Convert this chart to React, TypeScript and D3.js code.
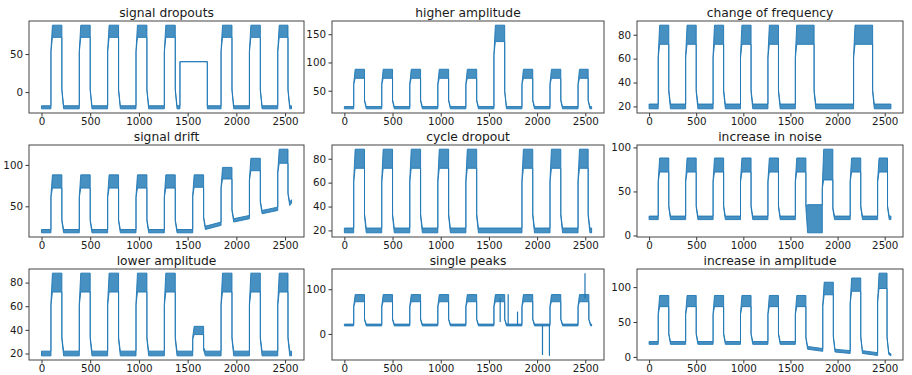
import * as d3 from "d3";
import { useRef, useEffect } from "react";

const WIDTH = 912;
const HEIGHT = 375;
const LAST = 2566; // last sample index
const BLUE = "#1f77b4";

const xTicks = [0, 500, 1000, 1500, 2000, 2500];

// each row: [rise, fall, plateau low, plateau high, base after fall, base before next rise, base noise]
const dropoutsCycles = [
  [97, 209, 72, 88, -20, -20, 2],
  [388, 500, 72, 88, -20, -20, 2],
  [679, 791, 72, 88, -20, -20, 2],
  [970, 1082, 72, 88, -20, -20, 2],
  [1261, 1373, 72, 88, -20, -20, 2],
  [1421, 1702, 40, 40, -20, -20, 2],
  [1843, 1955, 72, 88, -20, -20, 2],
  [2134, 2246, 72, 88, -20, -20, 2],
  [2425, 2530, 72, 88, -20, -20, 2],
];
const higherCycles = [
  [97, 209, 72, 88, 20, 20, 2],
  [388, 500, 72, 88, 20, 20, 2],
  [679, 791, 72, 88, 20, 20, 2],
  [970, 1082, 72, 88, 20, 20, 2],
  [1261, 1373, 72, 88, 20, 20, 2],
  [1552, 1664, 137, 166, 20, 20, 2],
  [1843, 1955, 72, 88, 20, 20, 2],
  [2134, 2246, 72, 88, 20, 20, 2],
  [2425, 2530, 72, 88, 20, 20, 2],
];
const frequencyCycles = [
  [97, 209, 72, 88, 20, 20, 2],
  [388, 500, 72, 88, 20, 20, 2],
  [679, 791, 72, 88, 20, 20, 2],
  [970, 1082, 72, 88, 20, 20, 2],
  [1261, 1373, 72, 88, 20, 20, 2],
  [1552, 1751, 72, 88, 20, 20, 2],
  [2170, 2372, 72, 88, 20, 20, 2],
];
const driftCycles = [
  [97, 209, 72, 88, 20, 20, 2],
  [388, 500, 72, 88, 20, 20, 2],
  [679, 791, 72, 88, 20, 20, 2],
  [970, 1082, 72, 88, 20, 20, 2],
  [1261, 1373, 72, 88, 20, 20, 2],
  [1552, 1664, 73, 88, 24, 29, 2],
  [1843, 1955, 83, 97, 33, 37, 2],
  [2134, 2246, 93, 108, 43, 47, 2],
  [2425, 2530, 102, 119, 53, 56, 2],
];
const cycleDropCycles = [
  [97, 209, 72, 88, 20, 20, 2],
  [388, 500, 72, 88, 20, 20, 2],
  [679, 791, 72, 88, 20, 20, 2],
  [970, 1082, 72, 88, 20, 20, 2],
  [1261, 1373, 72, 88, 20, 20, 2],
  [1843, 1955, 72, 88, 20, 20, 2],
  [2134, 2246, 72, 88, 20, 20, 2],
  [2425, 2530, 72, 88, 20, 20, 2],
];
const noiseCycles = [
  [97, 209, 72, 88, 20, 20, 2],
  [388, 500, 72, 88, 20, 20, 2],
  [679, 791, 72, 88, 20, 20, 2],
  [970, 1082, 72, 88, 20, 20, 2],
  [1261, 1373, 72, 88, 20, 20, 2],
  [1552, 1664, 72, 88, 19, 19, 16],
  [1838, 1950, 63, 98, 20, 20, 2],
  [2134, 2246, 72, 88, 20, 20, 2],
  [2425, 2530, 72, 88, 20, 20, 2],
];
const lowerCycles = [
  [97, 209, 72, 88, 20, 20, 2],
  [388, 500, 72, 88, 20, 20, 2],
  [679, 791, 72, 88, 20, 20, 2],
  [970, 1082, 72, 88, 20, 20, 2],
  [1261, 1373, 72, 88, 20, 20, 2],
  [1552, 1664, 36, 43, 20, 20, 2],
  [1843, 1955, 72, 88, 20, 20, 2],
  [2134, 2246, 72, 88, 20, 20, 2],
  [2425, 2530, 72, 88, 20, 20, 2],
];
const peaksCycles = [
  [97, 209, 72, 88, 20, 20, 2],
  [388, 500, 72, 88, 20, 20, 2],
  [679, 791, 72, 88, 20, 20, 2],
  [970, 1082, 72, 88, 20, 20, 2],
  [1261, 1373, 72, 88, 20, 20, 2],
  [1552, 1664, 72, 88, 20, 20, 2],
  [1843, 1955, 72, 88, 20, 20, 2],
  [2134, 2246, 72, 88, 20, 20, 2],
  [2425, 2537, 72, 88, 20, 20, 2],
];
// [time, from, to]
const peaksSpikes = [
  [1617, 80, 27],
  [1700, 20, 89],
  [1797, 20, 50],
  [2056, 20, -47],
  [2128, 20, -49],
  [2497, 80, 136],
];
const amplitudeCycles = [
  [97, 209, 72, 88, 20, 20, 2],
  [388, 500, 72, 88, 20, 20, 2],
  [679, 791, 72, 88, 20, 20, 2],
  [970, 1082, 72, 88, 20, 20, 2],
  [1261, 1373, 72, 88, 20, 20, 2],
  [1552, 1664, 72, 88, 13, 10, 2],
  [1843, 1955, 89, 107, 9, 7, 2],
  [2134, 2246, 94, 113, 7, 4, 2],
  [2425, 2525, 98, 120, 5, 3, 1.5],
];

const panels = [
  { title: "signal dropouts", start: -20, cycles: dropoutsCycles, yTicks: [0, 50], spikes: [] as number[][] },
  { title: "higher amplitude", start: 20, cycles: higherCycles, yTicks: [50, 100, 150], spikes: [] },
  { title: "change of frequency", start: 20, cycles: frequencyCycles, yTicks: [20, 40, 60, 80], spikes: [] },
  { title: "signal drift", start: 20, cycles: driftCycles, yTicks: [50, 100], spikes: [] },
  { title: "cycle dropout", start: 20, cycles: cycleDropCycles, yTicks: [20, 40, 60, 80], spikes: [] },
  { title: "increase in noise", start: 20, cycles: noiseCycles, yTicks: [0, 50, 100], spikes: [] },
  { title: "lower amplitude", start: 20, cycles: lowerCycles, yTicks: [20, 40, 60, 80], spikes: [] },
  { title: "single peaks", start: 20, cycles: peaksCycles, yTicks: [0, 100], spikes: peaksSpikes },
  { title: "increase in amplitude", start: 20, cycles: amplitudeCycles, yTicks: [0, 50, 100], spikes: [] },
];

const colLeft = [29, 332, 637];
const colRight = [304, 604, 903];
const rowTop = [21, 145, 269];
const rowBottom = [113, 237, 360];

type Pt = { t: number; lo: number; hi: number };

function buildSignal(start: number, cycles: number[][]): Pt[] {
  const pts: Pt[] = [];
  let base = start;
  let noise = 2;
  pts.push({ t: 0, lo: base - noise, hi: base + noise });
  cycles.forEach(([rise, fall, pLo, pHi, b0, b1, n]) => {
    pts.push({ t: rise, lo: base - noise, hi: base + noise });
    if (pHi - pLo < 0.5) {
      // clean rectangular segment
      pts.push({ t: rise, lo: pLo, hi: pHi });
      pts.push({ t: fall, lo: pLo, hi: pHi });
      pts.push({ t: fall, lo: b0 - n, hi: b0 + n });
    } else {
      const a = base + 0.8 * (pLo - base);
      pts.push({ t: rise, lo: a - 1, hi: a + 1 });
      pts.push({ t: rise + 15, lo: pLo, hi: pHi });
      pts.push({ t: fall, lo: pLo, hi: pHi });
      const b = b0 + 0.25 * (pLo - b0);
      pts.push({ t: fall, lo: b - 1, hi: b + 1 });
      pts.push({ t: fall + 18, lo: b0 - n, hi: b0 + n });
    }
    base = b1;
    noise = n;
  });
  pts.push({ t: LAST, lo: base - noise, hi: base + noise });
  return pts;
}

export default function App() {
  const svgRef = useRef<SVGSVGElement | null>(null);

  useEffect(() => {
    const svg = d3.select(svgRef.current);
    svg.selectAll("*").remove();
    svg.append("rect").attr("width", WIDTH).attr("height", HEIGHT).attr("fill", "white");

    panels.forEach((p, i) => {
      const col = i % 3;
      const row = Math.floor(i / 3);
      const left = colLeft[col];
      const right = colRight[col];
      const top = rowTop[row];
      const bottom = rowBottom[row];

      const pts = buildSignal(p.start, p.cycles);
      const vals = pts.flatMap((d) => [d.lo, d.hi]).concat(p.spikes.flatMap((s) => [s[1], s[2]]));
      const [mn, mx] = d3.extent(vals) as [number, number];
      const pad = (mx - mn) * 0.05;

      const x = d3.scaleLinear().domain([-LAST * 0.05, LAST * 1.05]).range([left, right]);
      const y = d3.scaleLinear().domain([mn - pad, mx + pad]).range([bottom, top]);

      const g = svg.append("g");

      const area = d3
        .area<Pt>()
        .x((d) => x(d.t))
        .y0((d) => y(d.lo))
        .y1((d) => y(d.hi));

      g.append("path")
        .datum(pts)
        .attr("d", area)
        .attr("fill", BLUE)
        .attr("fill-opacity", 0.82)
        .attr("stroke", BLUE)
        .attr("stroke-width", 0.9)
        .attr("stroke-linejoin", "round");

      const line = d3
        .line<number[]>()
        .x((d) => x(d[0]))
        .y((d) => y(d[1]));
      p.spikes.forEach((s) => {
        g.append("path")
          .attr("d", line([[s[0], s[1]], [s[0], s[2]]]))
          .attr("stroke", BLUE)
          .attr("stroke-width", 1.2)
          .attr("fill", "none");
      });

      const xa = g
        .append("g")
        .attr("transform", `translate(0,${bottom})`)
        .call(d3.axisBottom(x).tickValues(xTicks).tickSize(3.5).tickPadding(1.5).tickFormat(d3.format("d")));
      const ya = g
        .append("g")
        .attr("transform", `translate(${left},0)`)
        .call(d3.axisLeft(y).tickValues(p.yTicks).tickSize(3.5).tickPadding(2.5).tickFormat(d3.format("d")));
      [xa, ya].forEach((a) => {
        a.select(".domain").remove();
        a.selectAll("line").attr("stroke", "#333");
        a.selectAll("text")
          .attr("fill", "#1a1a1a")
          .attr("font-family", "DejaVu Sans")
          .attr("font-size", 10.3);
      });

      g.append("rect")
        .attr("x", left)
        .attr("y", top)
        .attr("width", right - left)
        .attr("height", bottom - top)
        .attr("fill", "none")
        .attr("stroke", "#444")
        .attr("stroke-width", 1);

      g.append("text")
        .attr("x", (left + right) / 2)
        .attr("y", top - 4)
        .attr("text-anchor", "middle")
        .attr("font-family", "DejaVu Sans")
        .attr("font-size", 12.3)
        .attr("fill", "#1a1a1a")
        .text(p.title);
    });
  }, []);

  return (
    <svg
      ref={svgRef}
      width={WIDTH}
      height={HEIGHT}
      style={{ position: "absolute", left: 0, top: 0 }}
    ></svg>
  );
}
